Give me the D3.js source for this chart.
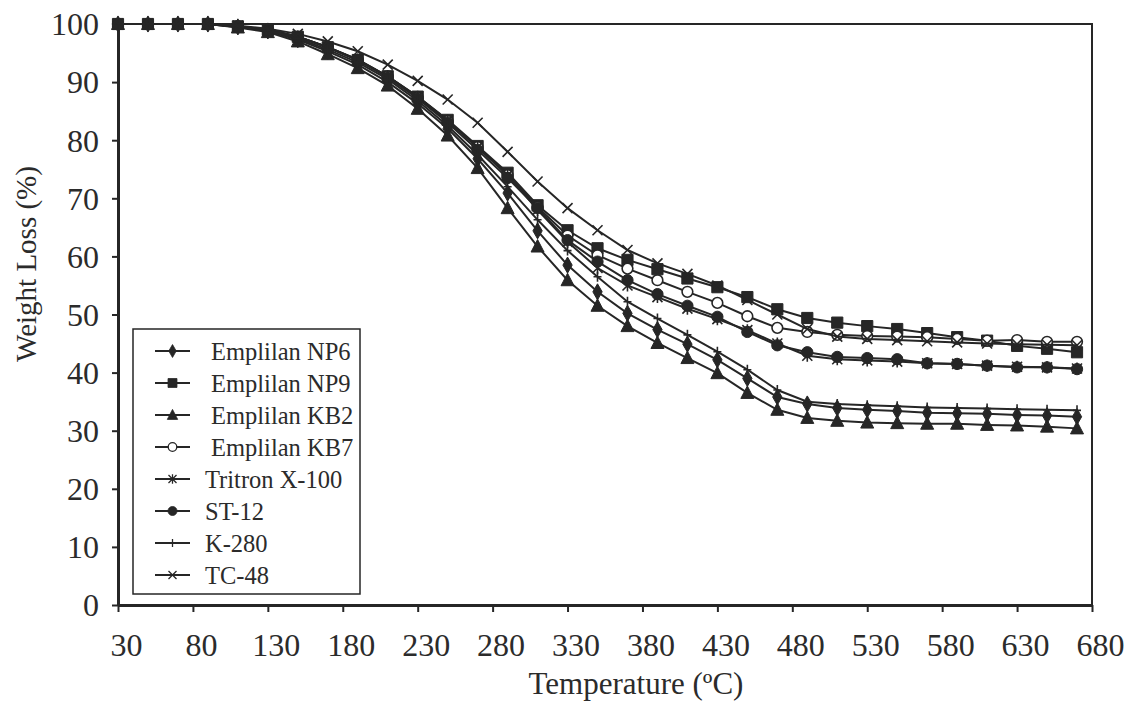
<!DOCTYPE html>
<html lang='en'>
<head>
  <title>TGA curves</title>
  <script src='https://cdn.jsdelivr.net/npm/d3@7/dist/d3.min.js'></script>
  <style>
    body { margin: 0; background: #fff; }
    text { font-family: "Liberation Serif", "Times New Roman", serif; fill: #2b2b2b; }
  </style>
</head>
<body>
  <script>
    // temperatures of each reading (degC)
    const temps = [30, 50, 70, 90, 110, 130, 150, 170, 190, 210, 230, 250, 270, 290, 310, 330, 350,
      370, 390, 410, 430, 450, 470, 490, 510, 530, 550, 570, 590, 610, 630, 650, 670];
    const xTicks = [30, 80, 130, 180, 230, 280, 330, 380, 430, 480, 530, 580, 630, 680];
    const yTicks = [0, 10, 20, 30, 40, 50, 60, 70, 80, 90, 100];

    // weight remaining (%) per surfactant
    const np6 = [100, 100, 100, 100, 99.5, 98.8, 97.3, 95.3, 93, 90, 86.3, 82, 76.8, 70.9, 64.4, 58.5, 53.9,
      50.2, 47.4, 44.9, 42.2, 39.0, 35.8, 34.6, 33.9, 33.6, 33.4, 33.1, 33.0, 32.9, 32.7, 32.6, 32.4];
    const np9 = [100, 100, 100, 100, 99.6, 99, 97.8, 96, 93.8, 91, 87.5, 83.5, 79, 74.4, 68.8, 64.5, 61.4,
      59.4, 57.8, 56.2, 54.7, 53.0, 50.9, 49.4, 48.6, 48.0, 47.5, 46.8, 46.1, 45.5, 44.6, 44.1, 43.5];
    const kb2 = [100, 100, 100, 100, 99.4, 98.6, 97, 94.8, 92.4, 89.4, 85.4, 80.8, 75.2, 68.3, 61.7, 55.9, 51.5,
      48.0, 45.1, 42.5, 39.9, 36.5, 33.6, 32.2, 31.7, 31.4, 31.3, 31.2, 31.2, 31.0, 30.9, 30.7, 30.4];
    const kb7 = [100, 100, 100, 100, 99.6, 99, 97.8, 96, 93.8, 91, 87.4, 83.3, 78.8, 74, 68.5, 63.6, 60.2,
      57.9, 55.9, 53.9, 52.0, 49.7, 47.7, 47.0, 46.5, 46.3, 46.2, 46.1, 45.8, 45.5, 45.6, 45.3, 45.3];
    const tritron = [100, 100, 100, 100, 99.6, 99, 97.8, 96, 93.9, 91, 87.5, 83.4, 78.8, 74, 68, 62.5, 58,
      55, 53, 51, 49.2, 47.3, 45, 42.9, 42.3, 42.1, 41.9, 41.6, 41.5, 41.2, 41.0, 40.9, 40.7];
    const st12 = [100, 100, 100, 100, 99.6, 99, 97.8, 96, 93.8, 90.8, 87.2, 83, 78.3, 73.5, 68.3, 62.8, 59.1,
      55.9, 53.5, 51.5, 49.6, 47.0, 44.7, 43.5, 42.7, 42.5, 42.3, 41.6, 41.5, 41.2, 40.9, 40.9, 40.6];
    const k280 = [100, 100, 100, 100, 99.5, 98.9, 97.5, 95.6, 93.4, 90.5, 86.8, 82.5, 77.5, 72, 66.3, 61, 56.5,
      52.2, 49.3, 46.5, 43.6, 40.5, 37, 35, 34.6, 34.4, 34.2, 34.0, 33.9, 33.8, 33.7, 33.6, 33.5];
    const tc48 = [100, 100, 100, 100, 99.7, 99.2, 98.3, 97, 95.3, 93, 90.2, 87, 83, 78, 72.9, 68.3, 64.5,
      61.1, 58.8, 57, 55, 52.5, 50, 47.5, 46.2, 45.8, 45.6, 45.4, 45.2, 45, 44.9, 44.8, 44.7];

    const seriesNames = ["Emplilan NP6", "Emplilan NP9", "Emplilan KB2", "Emplilan KB7",
      "Tritron X-100", "ST-12", "K-280", "TC-48"];
    const seriesValues = [np6, np9, kb2, kb7, tritron, st12, k280, tc48];
    const markerTypes = ["diamond", "square", "triangle", "ring", "star", "circle", "plus", "cross"];

    drawChart();

    function drawChart() {
      let margins = { left: 118, top: 24, right: 36, bottom: 109 };
      let width = 1128 - margins.left - margins.right,
        height = 714 - margins.top - margins.bottom;
      let ink = "#262626";

      let svg = d3.select("body").append("svg")
        .attr("width", 1128)
        .attr("height", 714);
      let g = svg.append("g")
        .attr("transform", `translate(${margins.left},${margins.top})`);

      let xScale = d3.scaleLinear().domain([30, 680]).range([0, width]);
      let yScale = d3.scaleLinear().domain([0, 100]).range([height, 0]);

      // plot frame
      g.append("rect")
        .attr("width", width).attr("height", height)
        .attr("fill", "none").attr("stroke", ink).attr("stroke-width", 2);

      // axes
      let xAxisG = g.append("g")
        .attr("transform", `translate(0,${height})`)
        .call(d3.axisBottom(xScale).tickValues(xTicks).tickSize(7).tickPadding(21).tickSizeOuter(0));
      let yAxisG = g.append("g")
        .call(d3.axisLeft(yScale).tickValues(yTicks).tickSize(6).tickPadding(13).tickSizeOuter(0));
      [xAxisG, yAxisG].forEach(ax => {
        ax.select(".domain").attr("stroke", ink).attr("stroke-width", 3);
        ax.selectAll(".tick line").attr("stroke", ink).attr("stroke-width", 2);
        ax.selectAll(".tick text").attr("fill", "#2b2b2b").style("font-size", "32px")
          .attr("font-family", null);
      });
      xAxisG.selectAll(".tick text").attr("dx", 8);
      yAxisG.selectAll(".tick text").attr("dy", "0.34em");

      // marker shapes
      function markerPath(type) {
        if (type === "diamond") return d3.symbol(d3.symbolDiamond, 75)();
        if (type === "square") return d3.symbol(d3.symbolSquare, 125)();
        if (type === "triangle") return "M0,-7L6.5,5.5L-6.5,5.5Z";
        if (type === "ring") return d3.symbol(d3.symbolCircle, 90)();
        if (type === "circle") return d3.symbol(d3.symbolCircle, 100)();
        if (type === "star") return "M-5,-5L5,5M-5,5L5,-5M0,-6V6";
        if (type === "plus") return "M0,-5V5M-4,0H4";
        return "M-5,-5L5,5M-5,5L5,-5";
      }
      function styleMarker(sel, type) {
        let filled = ["diamond", "square", "triangle", "circle"].includes(type);
        sel.attr("d", markerPath(type))
          .attr("fill", type === "ring" ? "#fff" : (filled ? ink : "none"))
          .attr("stroke", ink)
          .attr("stroke-width", filled ? 1 : 1.6);
      }

      let line = d3.line()
        .x((d, i) => xScale(temps[i]))
        .y(d => yScale(d));

      // lines and markers, one series after the other
      seriesValues.forEach((vals, s) => {
        let sg = g.append("g").attr("class", "series");
        sg.append("path")
          .attr("d", line(vals))
          .attr("fill", "none")
          .attr("stroke", ink)
          .attr("stroke-width", 2);
        sg.selectAll(".mk").data(vals).join("path")
          .attr("class", "mk")
          .attr("transform", (d, i) => `translate(${xScale(temps[i])},${yScale(d)})`)
          .call(styleMarker, markerTypes[s]);
      });

      // axis titles
      svg.append("text")
        .attr("x", 636).attr("y", 694)
        .attr("text-anchor", "middle")
        .style("font-size", "31px")
        .text("Temperature (ºC)");
      svg.append("text")
        .attr("transform", `translate(36,264) rotate(-90)`)
        .attr("text-anchor", "middle")
        .style("font-size", "29px")
        .text("Weight Loss (%)");

      // legend
      let legend = svg.append("g").attr("transform", "translate(133,329)");
      legend.append("rect")
        .attr("width", 227).attr("height", 265)
        .attr("fill", "#fff").attr("stroke", ink).attr("stroke-width", 1.5);
      let rows = legend.selectAll(".row").data(seriesNames).join("g")
        .attr("class", "row")
        .attr("transform", (d, i) => `translate(0,${22 + i * 32})`);
      rows.append("line")
        .attr("x1", 22).attr("x2", 57)
        .attr("stroke", ink).attr("stroke-width", 2);
      rows.append("path")
        .attr("transform", "translate(39.5,0) scale(0.8)")
        .each(function (d, i) { d3.select(this).call(styleMarker, markerTypes[i]); });
      rows.append("text")
        .attr("x", (d, i) => i < 4 ? 78 : 72)
        .attr("dy", "0.35em")
        .style("font-size", "24.5px")
        .text(d => d);
    }
  </script>
</body>
</html>
